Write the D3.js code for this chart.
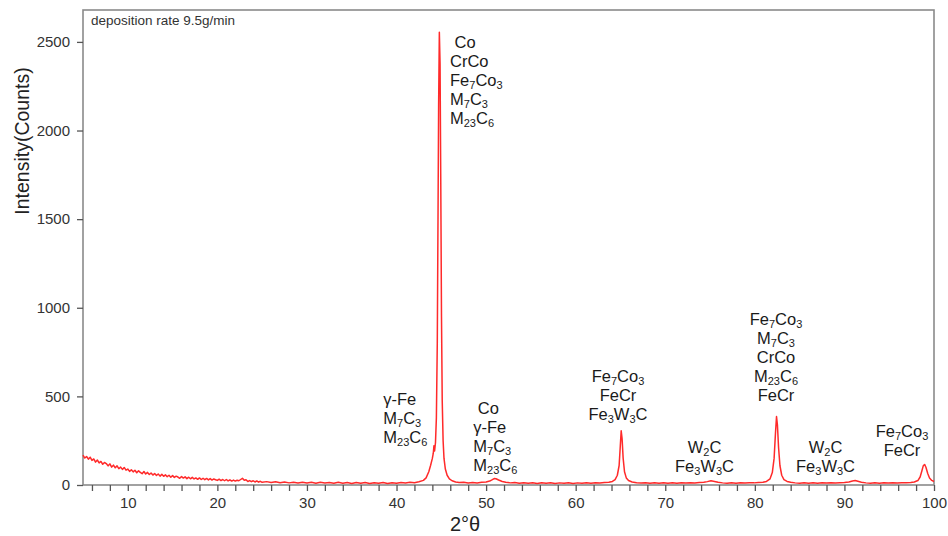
<!DOCTYPE html>
<html>
<head>
<meta charset="utf-8">
<script src="https://cdn.jsdelivr.net/npm/d3@7/dist/d3.min.js"></script>
<style>
  body { margin: 0; background: #fff; }
  svg { display: block; font-family: Arial, "Liberation Sans", sans-serif; }
</style>
</head>
<body>
<svg id="xrd-graphic" width="948" height="536"></svg>
<script>
// XRD scan: [2theta, counts]
const backgroundScan = [
    [5.0,168],[5.2,152],[5.4,161],[5.6,146],[5.8,157],[6.0,139],[6.2,147],[6.4,129],[6.6,141],[6.8,125],
    [7.0,133],[7.2,117],[7.4,127],[7.6,121],[7.8,108],[8.0,119],[8.2,101],[8.4,112],[8.6,97],[8.8,108],
    [9.0,92],[9.2,101],[9.4,88],[9.6,99],[9.8,84],[10.0,90],[10.2,77],[10.4,86],[10.6,74],[10.8,83],
    [11.0,69],[11.2,80],[11.4,71],[11.6,64],[11.8,76],[12.0,62],[12.2,71],[12.4,59],[12.6,68],[12.8,56],
    [13.0,65],[13.2,54],[13.4,62],[13.6,50],[13.8,60],[14.0,49],[14.2,57],[14.4,47],[14.6,55],[14.8,44],
    [15.0,53],[15.2,43],[15.4,50],[15.6,45],[15.8,38],[16.0,48],[16.2,39],[16.4,46],[16.6,36],[16.8,44],
    [17.0,35],[17.2,43],[17.4,34],[17.6,40],[17.8,32],[18.0,40],[18.2,31],[18.4,38],[18.6,30],[18.8,37],
    [19.0,29],[19.2,36],[19.4,28],[19.6,34],[19.8,30],[20.0,26],[20.2,33],[20.4,25],[20.6,31],[20.8,24],
    [21.0,31],[21.2,23],[21.4,29],[21.6,22],[21.8,28],[22.0,22],[22.2,27],[22.4,24],[22.6,31],[22.8,38],
    [23.0,27],[23.2,30],[23.4,20],[23.6,25],[23.8,19],[24.0,24],[24.2,17],[24.4,23],[24.6,16],[24.8,21],
    [25.0,15],[25.5,19],[26.0,14],[26.5,18],[27.0,13],[27.5,17],[28.0,12],[28.5,16],[29.0,11],[29.5,16],
    [30.0,11],[30.5,15],[31.0,10],[31.5,15],[32.0,11],[32.5,14],[33.0,10],[33.5,15],[34.0,10],[34.5,14],
    [35.0,9],[35.5,14],[36.0,10],[36.5,14],[37.0,9],[37.5,13],[38.0,10],[38.5,14],[39.0,9],[39.5,13],
    [40.0,10],[40.5,14],[41.0,11],[41.5,15],[42.0,13],[42.5,18]
];
const mainPeakScan = [
    [43.00,26],[43.30,40],[43.60,75],[43.80,110],[44.00,150],[44.10,178],[44.18,222],[44.25,192],
    [44.35,240],[44.45,380],[44.55,800],[44.63,1500],[44.70,2150],[44.78,2555],[44.86,2380],
    [44.94,1700],[45.02,950],[45.10,480],[45.20,250],[45.30,150],[45.45,90],[45.65,55],
    [45.90,35],[46.20,24],[46.60,17],[47.00,14]
];
const highAngleScan = [
    [47.50,15],[48.00,11],[48.50,14],[49.00,11],[49.50,15],[50.00,17],[50.40,22],[50.70,30],
    [50.90,36],[51.10,35],[51.40,28],[51.80,20],[52.20,15],[52.70,12],[53.20,14],[53.70,10],
    [54.20,13],[54.70,10],[55.20,13],[55.70,9],[56.20,13],[56.70,10],[57.20,13],[57.70,9],
    [58.20,12],[58.70,10],[59.20,13],[59.70,9],[60.20,12],[60.70,10],[61.20,13],[61.70,10],
    [62.20,13],[62.70,11],[63.20,14],[63.70,15],[64.10,20],[64.40,30],[64.65,55],[64.85,110],
    [64.98,220],[65.08,306],[65.18,262],[65.30,150],[65.45,75],[65.65,40],[65.90,25],[66.30,17],
    [66.80,13],[67.30,11],[67.80,13],[68.30,10],[68.80,13],[69.30,10],[69.80,13],[70.30,10],
    [70.80,13],[71.30,10],[71.80,13],[72.30,11],[72.80,13],[73.30,11],[73.80,14],[74.30,15],
    [74.70,19],[75.10,24],[75.50,20],[75.90,15],[76.40,12],[76.90,10],[77.40,13],[77.90,10],
    [78.40,13],[78.90,11],[79.40,13],[79.90,12],[80.40,14],[80.90,15],[81.30,20],[81.70,35],
    [81.95,70],[82.15,150],[82.30,290],[82.42,386],[82.52,340],[82.65,210],[82.80,110],
    [83.00,55],[83.25,30],[83.60,20],[84.00,15],[84.50,12],[85.00,10],[85.50,13],[86.00,10],
    [86.50,13],[87.00,10],[87.50,13],[88.00,11],[88.50,13],[89.00,11],[89.50,13],[90.00,14],
    [90.50,17],[90.90,23],[91.20,25],[91.50,21],[91.90,16],[92.40,12],[92.90,10],[93.40,13],
    [93.90,10],[94.40,13],[94.90,11],[95.40,13],[95.90,11],[96.40,13],[96.90,13],[97.40,14],
    [97.80,17],[98.20,25],[98.45,45],[98.65,80],[98.80,108],[98.95,116],[99.10,100],
    [99.30,65],[99.50,40],[99.75,26],[100.00,20]
];

const xMajorTicks = [10, 20, 30, 40, 50, 60, 70, 80, 90, 100];
const xMinorTicks = [6, 8, 12, 14, 16, 18, 22, 24, 26, 28, 32, 34, 36, 38, 42, 44, 46, 48,
    52, 54, 56, 58, 62, 64, 66, 68, 72, 74, 76, 78, 82, 84, 86, 88, 92, 94, 96, 98];
const yTicks = [0, 500, 1000, 1500, 2000, 2500];

// phase labels, anchored at (2theta, counts) of the first line
const peakLabels = [
    {angle: 45.97, counts: 2468, anchor: "start", lines: [" Co", "CrCo", "Fe_7Co_3", "M_7C_3", "M_23C_6"]},
    {angle: 38.52, counts: 451, anchor: "start", lines: ["γ-Fe", "M_7C_3", "M_23C_6"]},
    {angle: 48.57, counts: 401, anchor: "start", lines: [" Co", "γ-Fe", "M_7C_3", "M_23C_6"]},
    {angle: 64.72, counts: 581, anchor: "middle", lines: ["Fe_7Co_3", "FeCr", "Fe_3W_3C"]},
    {angle: 74.38, counts: 182, anchor: "middle", lines: ["W_2C", "Fe_3W_3C"]},
    {angle: 82.36, counts: 903, anchor: "middle", lines: ["Fe_7Co_3", "M_7C_3", "CrCo", "M_23C_6", "FeCr"]},
    {angle: 87.89, counts: 182, anchor: "middle", lines: ["W_2C", "Fe_3W_3C"]},
    {angle: 96.43, counts: 271, anchor: "middle", lines: ["Fe_7Co_3", "FeCr"]}
];

const frame = {left: 83, right: 934, top: 10, bottom: 485};
const lineGap = 19;

const svg = d3.select("#xrd-graphic");
const pattern = backgroundScan.concat(mainPeakScan, highAngleScan);

const scaleX = d3.scaleLinear().domain([5, 100]).range([frame.left, frame.right]);
const scaleY = d3.scaleLinear().domain([0, 2680]).range([frame.bottom, frame.top]);

// box
svg.append("rect")
    .attr("x", frame.left).attr("y", frame.top)
    .attr("width", frame.right - frame.left)
    .attr("height", frame.bottom - frame.top)
    .attr("fill", "none")
    .attr("stroke", "#8a8a8a")
    .attr("stroke-width", 1.6);

// x axis: minor ticks, then labelled ticks
const axisX = d3.axisBottom(scaleX)
    .tickValues(xMajorTicks.concat(xMinorTicks))
    .tickSize(6)
    .tickPadding(6)
    .tickFormat(d => xMajorTicks.includes(d) ? d : "");
svg.append("g")
    .attr("transform", `translate(0,${frame.bottom})`)
    .call(axisX)
    .call(g => g.select(".domain").remove())
    .call(g => g.selectAll("line").attr("stroke", "#555").attr("stroke-width", 1.3))
    .call(g => g.selectAll("text").attr("fill", "#333").attr("font-size", 15)
        .attr("font-family", "Arial, 'Liberation Sans', sans-serif"));

const axisY = d3.axisLeft(scaleY)
    .tickValues(yTicks)
    .tickFormat(d3.format("d"))
    .tickSize(6)
    .tickPadding(7);
svg.append("g")
    .attr("transform", `translate(${frame.left},0)`)
    .call(axisY)
    .call(g => g.select(".domain").remove())
    .call(g => g.selectAll("line").attr("stroke", "#555").attr("stroke-width", 1.3))
    .call(g => g.selectAll("text").attr("fill", "#333").attr("font-size", 15)
        .attr("font-family", "Arial, 'Liberation Sans', sans-serif"));

// scan trace
const line = d3.line()
    .x(d => scaleX(d[0]))
    .y(d => scaleY(d[1]));
svg.append("path")
    .datum(pattern)
    .attr("d", line)
    .attr("fill", "none")
    .attr("stroke", "#ff2a2a")
    .attr("stroke-width", 1.5)
    .attr("stroke-linejoin", "round");

// formula text with _n as subscript
const writeFormula = function(textSel, formula) {
    let lowered = false;
    formula.split(/(_\d+)/).filter(s => s.length).forEach(part => {
        if (part[0] === "_") {
            textSel.append("tspan")
                .attr("font-size", 11)
                .attr("dy", lowered ? 0 : 3)
                .text(part.slice(1));
            lowered = true;
        } else {
            textSel.append("tspan")
                .attr("dy", lowered ? -3 : 0)
                .text(part);
            lowered = false;
        }
    });
}

const labelGroup = svg.append("g")
    .attr("font-size", 16.5)
    .attr("fill", "#1a1a1a");
peakLabels.forEach(group => {
    group.lines.forEach((formula, i) => {
        const t = labelGroup.append("text")
            .attr("x", scaleX(group.angle))
            .attr("y", scaleY(group.counts) + i * lineGap)
            .attr("text-anchor", group.anchor)
            .style("white-space", "pre");
        writeFormula(t, formula);
    });
});

svg.append("text")
    .attr("x", frame.left + 8)
    .attr("y", frame.top + 15)
    .attr("font-size", 13.5)
    .attr("fill", "#333")
    .text("deposition rate 9.5g/min");

svg.append("text")
    .attr("transform", "translate(29,141) rotate(-90)")
    .attr("text-anchor", "middle")
    .attr("font-size", 19.5)
    .attr("fill", "#222")
    .text("Intensity(Counts)");

svg.append("text")
    .attr("x", 465)
    .attr("y", 531)
    .attr("text-anchor", "middle")
    .attr("font-size", 20)
    .attr("fill", "#222")
    .text("2°θ");
</script>
</body>
</html>
